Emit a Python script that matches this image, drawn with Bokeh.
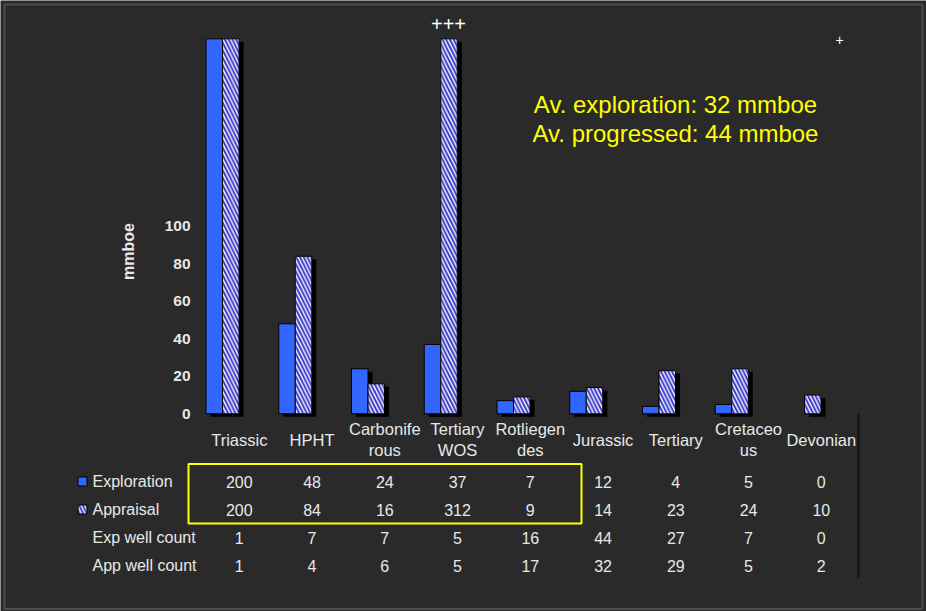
import math
import numpy as np
from bokeh.plotting import figure
from bokeh.models import Range1d
from bokeh.core.properties import value
from bokeh.embed import file_html
from bokeh.resources import INLINE

# ---------------- data ----------------
categories = ["Triassic", "HPHT", "Carboniferous", "Tertiary WOS", "Rotliegendes",
              "Jurassic", "Tertiary", "Cretaceous", "Devonian"]
category_labels = ["Triassic", "HPHT", "Carbonife\nrous", "Tertiary\nWOS", "Rotliegen\ndes",
                   "Jurassic", "Tertiary", "Cretaceo\nus", "Devonian"]
exploration = [200, 48, 24, 37, 7, 12, 4, 5, 0]
appraisal = [200, 84, 16, 312, 9, 14, 23, 24, 10]
exp_well_count = [1, 7, 7, 5, 16, 44, 27, 7, 0]
app_well_count = [1, 4, 6, 5, 17, 32, 29, 5, 2]
row_labels = ["Exploration", "Appraisal", "Exp well count", "App well count"]
y_ticks = [0, 20, 40, 60, 80, 100]
y_axis_max = 200
notes = ["Av. exploration: 32 mmboe", "Av. progressed: 44 mmboe"]

# ---------------- style ----------------
BG = "#2a2a2a"
TXT = "#e8e8e8"
BLUE = "#3366ff"
HATCH = "#3c3cc8"
YELLOW = "#ffff00"
FONT = value("Liberation Sans")

W, H = 926, 611
col_px = 72.75          # px per category
col0_px = 238.8         # px of first category centre
val_px = 1.875          # px per mmboe
zero_px = 413.3         # px (from top) of value 0

xs = -col0_px / col_px
xe = xs + W / col_px
ye = zero_px / val_px
ys = ye - H / val_px

p = figure(width=W, height=H, x_range=Range1d(xs, xe), y_range=Range1d(ys, ye),
           output_backend="svg", toolbar_location=None, min_border=0,
           x_axis_location=None, y_axis_location=None,
           background_fill_color=BG, border_fill_color=BG, outline_line_color=None)
p.grid.visible = False
# pixel helper ranges for layout of texts/frames
p.extra_x_ranges = {"px": Range1d(0, W)}
p.extra_y_ranges = {"py": Range1d(H, 0)}

# outer slide frame
p.quad(left=[4], right=[W - 4], top=[4], bottom=[H - 2.5], x_range_name="px",
       y_range_name="py", fill_color=None, line_color="#4c4c4c", line_width=2)

idx = np.arange(len(categories))
exp_top = np.minimum(exploration, y_axis_max)
app_top = np.minimum(appraisal, y_axis_max)
exp_line_alpha = [1.0 if v > 0 else 0.0 for v in exploration]
app_line_alpha = [1.0 if v > 0 else 0.0 for v in appraisal]

bar_w = 0.227
exp_x = idx - 0.344
app_x = idx - 0.117
sh_dx = 4.5 / col_px
sh_dy = 3 / val_px

# shadows
p.vbar(x=exp_x + sh_dx, top=exp_top - sh_dy, bottom=-sh_dy, width=bar_w,
       fill_color="black", line_color=None)
p.vbar(x=app_x + sh_dx, top=app_top - sh_dy, bottom=-sh_dy, width=bar_w,
       fill_color="black", line_color=None)
# bars
p.vbar(x=exp_x, top=exp_top, bottom=0, width=bar_w, fill_color=BLUE,
       line_color="black", line_width=1, line_alpha=exp_line_alpha)
p.vbar(x=app_x, top=app_top, bottom=0, width=bar_w, fill_color="white",
       hatch_pattern="\\", hatch_color=HATCH, hatch_scale=7.5, hatch_weight=2.0,
       line_color="black", line_width=1, line_alpha=app_line_alpha)

# y tick labels and axis title
p.text(x=[190] * len(y_ticks), y=y_ticks, text=[str(t) for t in y_ticks],
       x_range_name="px", text_align="right", text_baseline="middle",
       text_font=FONT, text_font_style="bold", text_font_size="15.5px", text_color=TXT)
p.text(x=[128], y=[251], text=["mmboe"], x_range_name="px", y_range_name="py",
       angle=math.pi / 2, text_align="center", text_baseline="middle",
       text_font=FONT, text_font_style="bold", text_font_size="16px", text_color=TXT)

# category labels
p.text(x=idx, y=[439] * len(idx), text=category_labels, y_range_name="py",
       text_align="center", text_baseline="middle", text_line_height=1.22,
       text_font=FONT, text_font_size="16.5px", text_color=TXT)

# data table
row_y = [481, 509, 537, 565]
rows = [exploration, appraisal, exp_well_count, app_well_count]
for ry, vals in zip(row_y, rows):
    p.text(x=idx, y=[ry] * len(idx), text=[str(v) for v in vals], y_range_name="py",
           text_align="center", text_baseline="middle",
           text_font=FONT, text_font_size="16px", text_color=TXT)
p.text(x=[92] * len(row_labels), y=row_y, text=row_labels,
       x_range_name="px", y_range_name="py", text_align="left", text_baseline="middle",
       text_font=FONT, text_font_size="16px", text_color=TXT)

# legend keys
p.rect(x=[82], y=[row_y[0]], width=9, height=9, x_range_name="px", y_range_name="py",
       fill_color=BLUE, line_color="black", line_width=1)
p.rect(x=[82], y=[row_y[1]], width=9, height=9, x_range_name="px", y_range_name="py",
       fill_color="white", hatch_pattern="\\", hatch_color=HATCH, hatch_scale=7.5,
       hatch_weight=2.0, line_color="black", line_width=1)

# yellow highlight box
p.quad(left=[188], right=[581], top=[463.5], bottom=[523], x_range_name="px",
       y_range_name="py", fill_color=None, line_color=YELLOW, line_width=2)
# right table border
p.segment(x0=[858], y0=[413], x1=[858], y1=[577], x_range_name="px",
          y_range_name="py", line_color="#111111", line_width=2)

# annotations
p.text(x=[675, 675], y=[104, 133], text=notes, x_range_name="px", y_range_name="py",
       text_align="center", text_baseline="middle", text_font=FONT,
       text_font_size="24px", text_color=YELLOW)
p.text(x=[448], y=[23], text=["+++"], x_range_name="px", y_range_name="py",
       text_align="center", text_baseline="middle", text_font=FONT,
       text_font_size="20px", text_color="white")
p.text(x=[839], y=[39], text=["+"], x_range_name="px", y_range_name="py",
       text_align="center", text_baseline="middle", text_font=FONT,
       text_font_size="14px", text_color="white")

open("out.html", "w").write(file_html(p, INLINE))
